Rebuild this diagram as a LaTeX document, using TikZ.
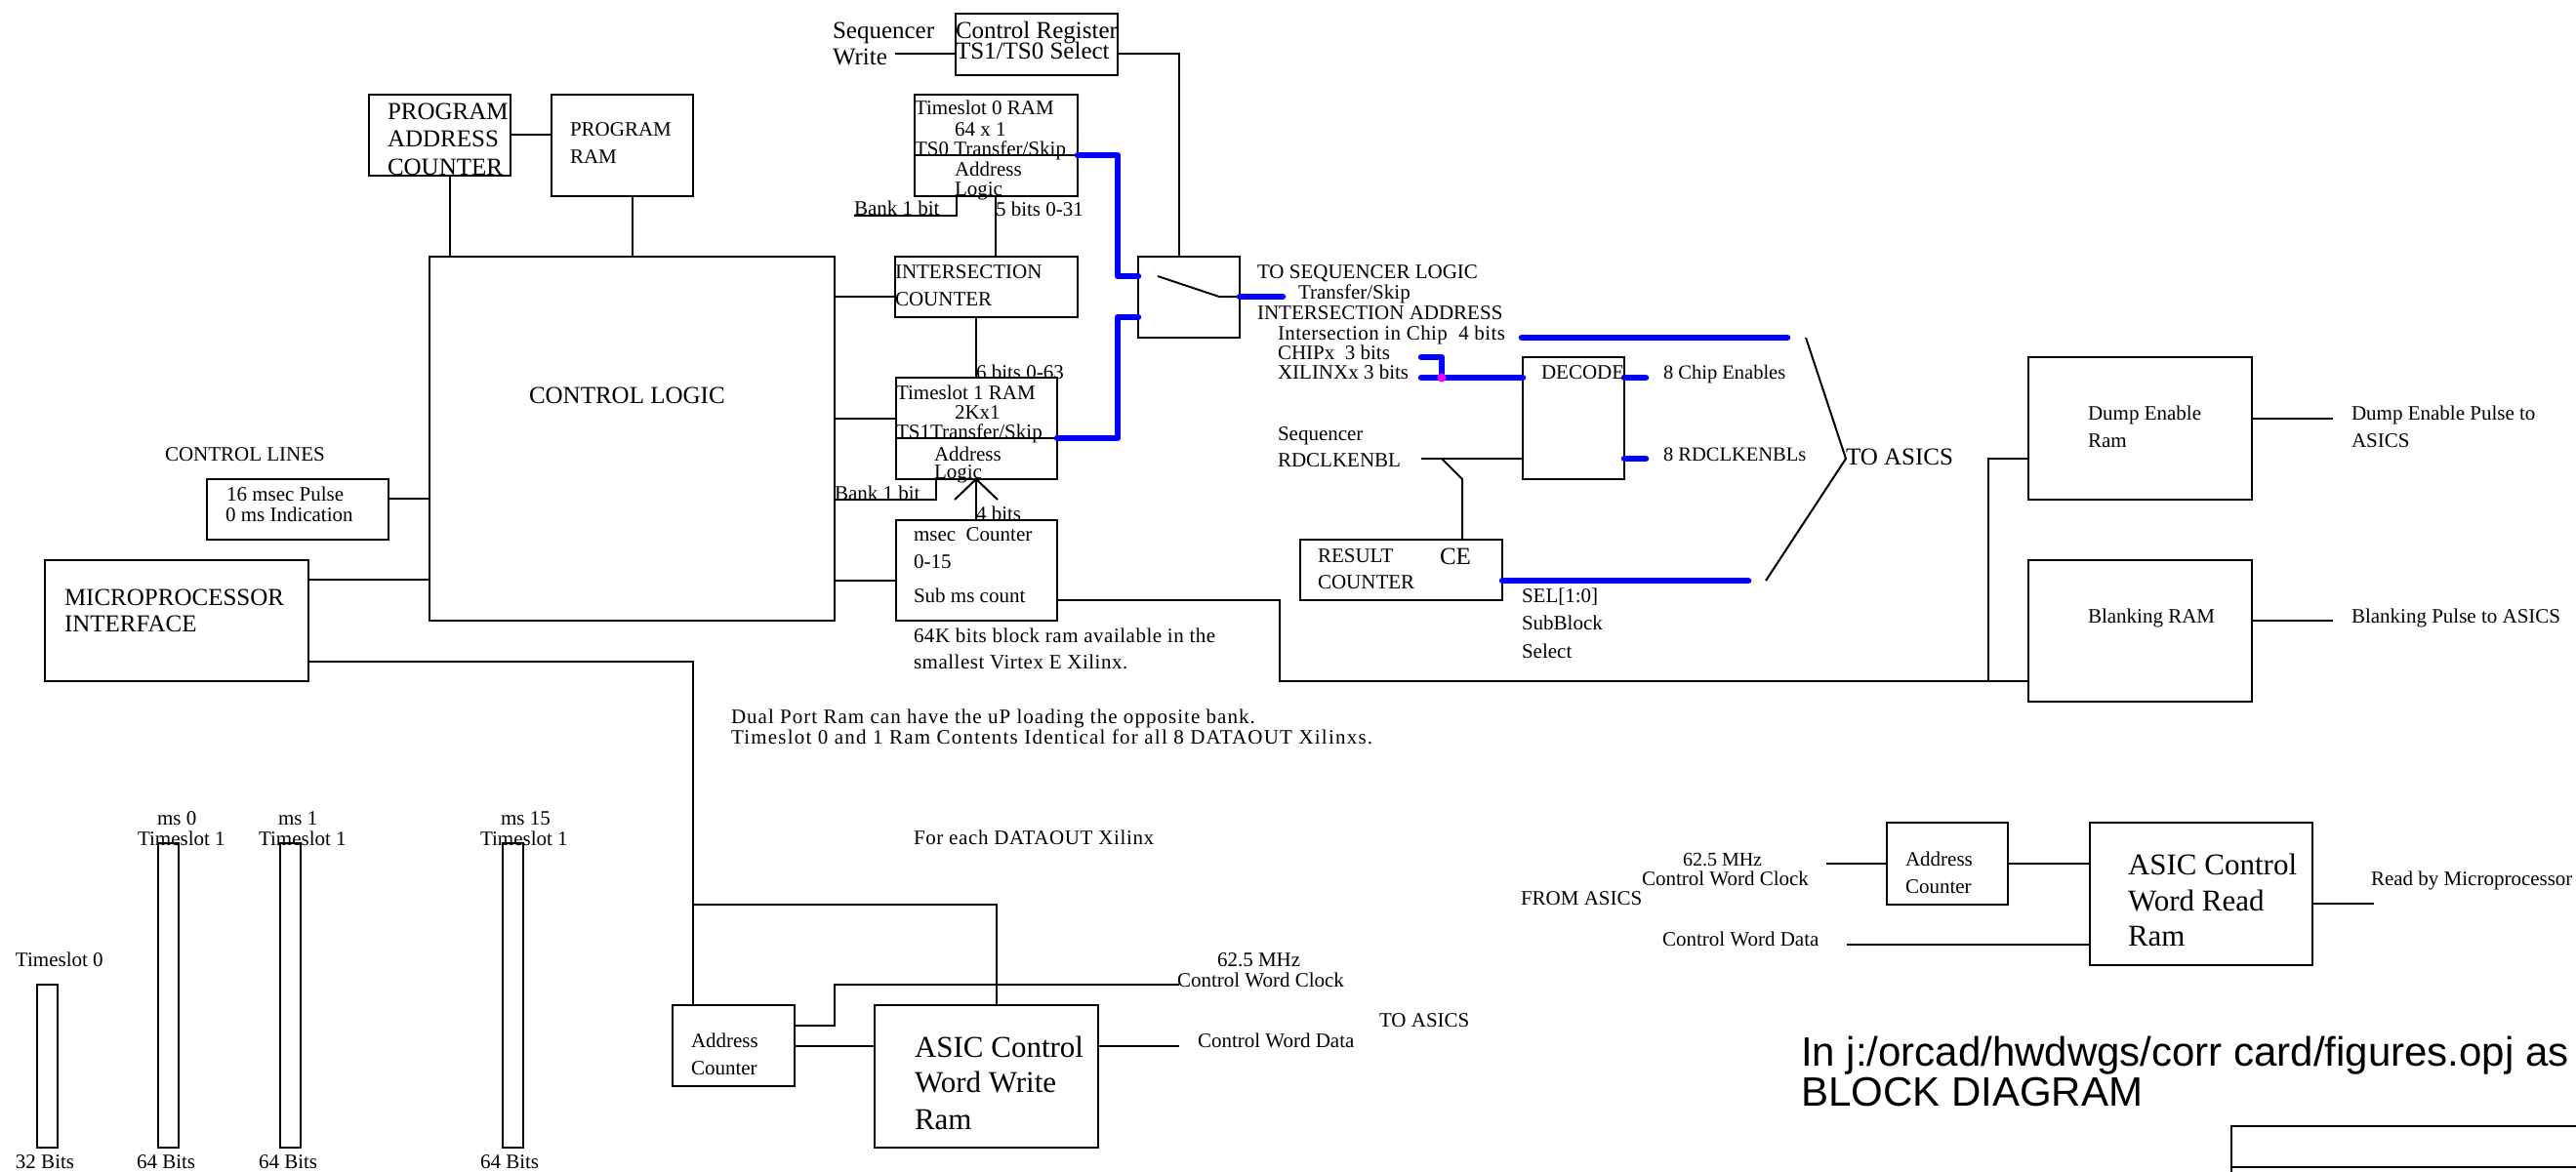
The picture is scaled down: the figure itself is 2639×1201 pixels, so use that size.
\documentclass[tikz,border=0pt]{standalone}
\usepackage{fontspec}
\setmainfont{Liberation Serif}
\newfontfamily\arialfont{Liberation Sans}
\definecolor{busblue}{RGB}{0,0,255}
\definecolor{dotmag}{RGB}{255,0,255}
\newcounter{lbl}
\newcommand{\Lbl}[4]{\stepcounter{lbl}\node[lab,font=\fontsize{#3}{#3}\selectfont] (t\arabic{lbl}) at (#1,#2) {#4};}
\newcommand{\LblS}[5]{\stepcounter{lbl}\node[lab,font=\fontsize{#3}{#3}\selectfont\addfontfeature{LetterSpace=#4}] (t\arabic{lbl}) at (#1,#2) {#5};}
\newcommand{\Bx}[5]{\node[bx,minimum width={#4-#2},minimum height={#5-#3}] (#1) at ({(#2+#4)/2},{(#3+#5)/2}) {};}
\tikzset{
  lab/.style={anchor=base west,inner sep=0pt,outer sep=0pt},
  bx/.style={draw=black,line width=2pt,inner sep=0pt,outer sep=0pt,rectangle},
  wire/.style={draw=black,line width=2pt,line join=miter},
  bus/.style={draw=busblue,line width=6.5pt,line cap=round,line join=round},
}
\begin{document}
\begin{tikzpicture}[x=1pt,y=-1pt]
\useasboundingbox (0,0) rectangle (2639,1201);
% boxes
\Bx{pac}{378}{97}{523}{180}
\Bx{pram}{565}{97}{710}{201}
\Bx{ctrl}{440}{263}{855}{636}
\Bx{ctl16}{212}{491}{398}{553}
\Bx{micro}{46}{574}{316}{698}
\Bx{creg}{979}{14}{1145}{77}
\Bx{tszero}{937}{97}{1104}{201}
\Bx{isect}{917}{263}{1104}{325}
\Bx{sw}{1166}{263}{1270}{346}
\Bx{tsone}{918}{387}{1083}{491}
\Bx{msec}{918}{533}{1083}{636}
\Bx{dec}{1560}{366}{1664}{491}
\Bx{res}{1332}{553}{1539}{615}
\Bx{dump}{2078}{366}{2307}{512}
\Bx{blank}{2078}{574}{2307}{719}
\Bx{wac}{689}{1030}{814}{1113}
\Bx{wram}{896}{1030}{1125}{1176}
\Bx{rac}{1933}{843}{2057}{927}
\Bx{rram}{2141}{843}{2369}{989}
\Bx{barz}{38}{1009}{59}{1176}
\Bx{bara}{162}{864}{183}{1176}
\Bx{barb}{287}{864}{308}{1176}
\Bx{barc}{515}{864}{536}{1176}
% free-end coordinates
\coordinate (wrstart) at (917,55);
\coordinate (swjog) at (1208,55);
\coordinate (bankzero) at (875,221);
\coordinate (bankone) at (855,512);
\coordinate (swa) at (1186,283);
\coordinate (swb) at (1249,304);
\coordinate (arrl) at (978,512);
\coordinate (arrr) at (1022,512);
\coordinate (rdstart) at (1456,470);
\coordinate (rdtap) at (1477,470);
\coordinate (rdbend) at (1498,491);
\coordinate (mcorner) at (1311,615);
\coordinate (mlow) at (1311,698);
\coordinate (mtap) at (2037,698);
\coordinate (mup) at (2037,470);
\coordinate (upright) at (709,678);
\coordinate (uptap) at (709,927);
\coordinate (uprt) at (1021,927);
\coordinate (clkb) at (855,1051);
\coordinate (clkc) at (855,1009);
\coordinate (clkd) at (1208,1009);
\coordinate (wdata) at (1208,1072);
\coordinate (dumpout) at (2390,429);
\coordinate (blankout) at (2390,636);
\coordinate (rclk) at (1871,885);
\coordinate (rdata) at (1892,968);
\coordinate (rout) at (2432,926);
\coordinate (anga) at (1850,346);
\coordinate (angb) at (1891,470);
\coordinate (angc) at (1809,595);
% wires
\draw[wire] (wrstart) -- (creg.west |- wrstart);
\draw[wire] (creg.east |- swjog) -- (swjog) -- (swjog |- sw.north);
\draw[wire] (tszero.west |- 0,159) -- (tszero.east |- 0,159);
\draw[wire] (tsone.west |- 0,449) -- (tsone.east |- 0,449);
\draw[wire] (bankzero) -- (980,221) -- (980,201);
\draw[wire] (1020,201) -- (1020,263);
\draw[wire] (ctrl.east |- 0,304) -- (isect.west |- 0,304);
\draw[wire] (1000,325) -- (1000,387);
\draw[wire] (ctrl.east |- 0,429) -- (tsone.west |- 0,429);
\draw[wire] (ctrl.east |- 0,595) -- (msec.west |- 0,595);
\draw[wire] (bankone) -- (959,512) -- (959,491);
\draw[wire] (arrl) -- (1000,491) -- (arrr);
\draw[wire] (1000,491) -- (1000,533);
\draw[wire] (swa) -- (swb) -- (sw.east |- swb);
\draw[wire] (pac.east |- 0,138) -- (pram.west |- 0,138);
\draw[wire] (461,180) -- (461,263);
\draw[wire] (648,201) -- (648,263);
\draw[wire] (ctl16.east |- 0,511) -- (ctrl.west |- 0,511);
\draw[wire] (micro.east |- 0,594) -- (ctrl.west |- 0,594);
\draw[wire] (micro.east |- upright) -- (710,678) -- (710,1030);
\draw[wire] (uptap) -- (uprt) -- (uprt |- wram.north);
\draw[wire] (wac.east |- clkb) -- (clkb) -- (clkc) -- (clkd);
\draw[wire] (wac.east |- 0,1072) -- (wram.west |- 0,1072);
\draw[wire] (wram.east |- wdata) -- (wdata);
\draw[wire] (rdstart) -- (dec.west |- rdstart);
\draw[wire] (rdtap) -- (rdbend) -- (rdbend |- res.north);
\draw[wire] (msec.east |- mcorner) -- (mcorner) -- (mlow) -- (blank.west |- mlow);
\draw[wire] (mtap) -- (mup) -- (dump.west |- mup);
\draw[wire] (dump.east |- dumpout) -- (dumpout);
\draw[wire] (blank.east |- blankout) -- (blankout);
\draw[wire] (rclk) -- (rac.west |- rclk);
\draw[wire] (rac.east |- rclk) -- (rram.west |- rclk);
\draw[wire] (rdata) -- (rram.west |- rdata);
\draw[wire] (rram.east |- rout) -- (rout);
\draw[wire] (anga) -- (angb) -- (angc);
% title block
\coordinate (tba) at (2286,1201);
\coordinate (tbb) at (2286,1154);
\coordinate (tbc) at (2639,1154);
\coordinate (tbd) at (2286,1196);
\coordinate (tbe) at (2639,1196);
\draw[wire] (tba) -- (tbb) -- (tbc);
\draw[wire] (tbd) -- (tbe);
% buses
\draw[bus] (tszero.east |- 0,159) -- (1145,159) -- (1145,283) -- (sw.west |- 0,283);
\draw[bus] (tsone.east |- 0,449) -- (1145,449) -- (1145,325) -- (sw.west |- 0,325);
\draw[bus] (sw.east |- 0,304) -- (1314,304);
\draw[bus] (1559,346) -- (1831,346);
\draw[bus] (1456,366) -- (1477,366) -- (1477,387);
\draw[bus] (1456,387) -- (dec.west |- 0,387);
\draw[bus] (dec.east |- 0,387) -- (1686,387);
\draw[bus] (dec.east |- 0,470) -- (1686,470);
\draw[bus] (res.east |- 0,595) -- (1791,595);
\fill[dotmag] (1477,387) circle (4.5);
% text
\Lbl{853}{40}{25}{Sequencer}
\Lbl{853}{67}{25}{Write}
\Lbl{979}{40}{25}{Control Register}
\Lbl{979}{61}{25}{TS1/TS0 Select}
\Lbl{937}{118}{21}{Timeslot 0 RAM}
\Lbl{978}{140}{21}{64 x 1}
\Lbl{937}{160}{21}{TS0 Transfer/Skip}
\Lbl{978}{181}{21}{Address}
\Lbl{978}{201}{21}{Logic}
\Lbl{875}{221}{21}{Bank 1 bit}
\Lbl{1020}{222}{21}{5 bits 0-31}
\Lbl{917}{285}{21}{INTERSECTION}
\Lbl{917}{313}{21}{COUNTER}
\Lbl{1288}{285}{21}{TO SEQUENCER LOGIC}
\Lbl{1330}{306}{21}{Transfer/Skip}
\Lbl{1288}{327}{21}{INTERSECTION ADDRESS}
\LblS{1309}{348}{21}{2}{Intersection in Chip\ \ 4 bits}
\Lbl{1309}{368}{21}{CHIPx\ \ 3 bits}
\Lbl{1309}{388}{21}{XILINXx 3 bits}
\Lbl{1000}{388}{21}{6 bits 0-63}
\Lbl{918}{409}{21}{Timeslot 1 RAM}
\Lbl{978}{429}{21}{2Kx1}
\Lbl{918}{449}{21}{TS1Transfer/Skip}
\Lbl{957}{472}{21}{Address}
\Lbl{957}{490}{21}{Logic}
\Lbl{855}{512}{21}{Bank 1 bit}
\Lbl{1000}{533}{21}{4 bits}
\Lbl{936}{554}{21}{msec\ \ Counter}
\Lbl{936}{582}{21}{0-15}
\Lbl{936}{617}{21}{Sub ms count}
\LblS{936}{658}{21}{2.4}{64K bits block ram available in the}
\LblS{936}{685}{21}{2.4}{smallest Virtex E Xilinx.}
\Lbl{1579}{388}{21}{DECODE}
\Lbl{1704}{388}{20.5}{8 Chip Enables}
\Lbl{1704}{472}{20.5}{8 RDCLKENBLs}
\Lbl{1309}{451}{21}{Sequencer}
\Lbl{1309}{478}{21}{RDCLKENBL}
\Lbl{1350}{576}{21}{RESULT}
\Lbl{1350}{603}{21}{COUNTER}
\Lbl{1475}{578}{25}{CE}
\Lbl{1559}{617}{21}{SEL[1:0]}
\Lbl{1559}{645}{21}{SubBlock}
\Lbl{1559}{674}{21}{Select}
\Lbl{1891}{476}{25}{TO ASICS}
\Lbl{397}{123}{25}{PROGRAM}
\Lbl{397}{151}{25}{ADDRESS}
\Lbl{397}{180}{25}{COUNTER}
\Lbl{584}{140}{21}{PROGRAM}
\Lbl{584}{168}{21}{RAM}
\Lbl{542}{413}{25}{CONTROL LOGIC}
\Lbl{169}{472}{21}{CONTROL LINES}
\Lbl{232}{513}{21}{16 msec Pulse}
\Lbl{231}{534}{21}{0 ms Indication}
\Lbl{66}{620}{25}{MICROPROCESSOR}
\Lbl{66}{647}{25}{INTERFACE}
\LblS{749}{741}{21}{4.9}{Dual Port Ram can have the uP loading the opposite bank.}
\LblS{749}{762}{21}{5.8}{Timeslot 0 and 1 Ram Contents Identical for all 8 DATAOUT Xilinxs.}
\LblS{936}{865}{21}{2.9}{For each DATAOUT Xilinx}
\Lbl{1247}{990}{21}{62.5 MHz}
\Lbl{1206}{1011}{21}{Control Word Clock}
\Lbl{1227}{1073}{21}{Control Word Data}
\Lbl{1413}{1052}{21}{TO ASICS}
\Lbl{708}{1073}{21}{Address}
\Lbl{708}{1101}{21}{Counter}
\Lbl{937}{1083}{31}{ASIC Control}
\Lbl{937}{1119}{31}{Word Write}
\Lbl{937}{1157}{31}{Ram}
\Lbl{161}{845}{21}{ms 0}
\Lbl{141}{866}{21}{Timeslot 1}
\Lbl{285}{845}{21}{ms 1}
\Lbl{265}{866}{21}{Timeslot 1}
\Lbl{513}{845}{21}{ms 15}
\Lbl{492}{866}{21}{Timeslot 1}
\Lbl{16}{990}{21}{Timeslot 0}
\Lbl{16}{1197}{21}{32 Bits}
\Lbl{140}{1197}{21}{64 Bits}
\Lbl{265}{1197}{21}{64 Bits}
\Lbl{492}{1197}{21}{64 Bits}
\Lbl{2139}{430}{21}{Dump Enable}
\Lbl{2139}{458}{21}{Ram}
\Lbl{2409}{430}{21}{Dump Enable Pulse to}
\Lbl{2409}{458}{21}{ASICS}
\Lbl{2139}{638}{21}{Blanking RAM}
\Lbl{2409}{638}{21}{Blanking Pulse to ASICS}
\Lbl{1724}{887}{20}{62.5 MHz}
\Lbl{1682}{907}{21}{Control Word Clock}
\Lbl{1558}{927}{21}{FROM ASICS}
\Lbl{1703}{969}{21}{Control Word Data}
\Lbl{1952}{887}{21}{Address}
\Lbl{1952}{915}{21}{Counter}
\Lbl{2180}{896}{31}{ASIC Control}
\Lbl{2180}{933}{31}{Word Read}
\Lbl{2180}{969}{31}{Ram}
\Lbl{2429}{907}{21}{Read by Microprocessor}
\node[lab,font=\arialfont\fontsize{42}{42}\selectfont] (notea) at (1845,1092) {In j:/orcad/hwdwgs/corr card/figures.opj as};
\node[lab,font=\arialfont\fontsize{42}{42}\selectfont] (noteb) at (1845,1133) {BLOCK DIAGRAM};
\end{tikzpicture}
\end{document}
